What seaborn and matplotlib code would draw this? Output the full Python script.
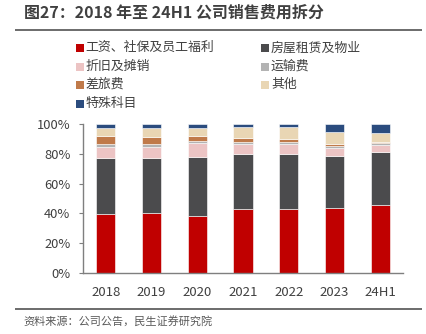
import matplotlib
matplotlib.use("Agg")
import matplotlib.pyplot as plt
import seaborn as sns
import numpy as np
import pandas as pd
from matplotlib.patches import Rectangle

sns.set_style("white")
plt.rcParams['font.family'] = ['Noto Sans CJK SC', 'DejaVu Sans']

periods = ["2018", "2019", "2020", "2021", "2022", "2023", "24H1"]
categories = ["工资、社保及员工福利", "房屋租赁及物业", "折旧及摊销", "运输费",
              "差旅费", "其他", "特殊科目"]
salary    = [39.3, 40.0, 38.4, 43.1, 42.9, 43.6, 45.8]
rent      = [37.8, 37.3, 39.6, 36.5, 37.1, 34.8, 35.1]
deprec    = [7.3, 7.4, 9.3, 7.3, 6.4, 5.6, 4.9]
transport = [2.0, 2.0, 1.3, 1.3, 1.4, 1.1, 1.5]
travel    = [5.3, 4.6, 3.6, 2.2, 2.0, 1.3, 0.3]
other     = [5.4, 6.3, 5.4, 7.4, 8.2, 8.0, 6.2]
special   = [2.9, 2.4, 2.4, 2.2, 2.0, 5.6, 6.2]
series = [salary, rent, deprec, transport, travel, other, special]
colors = ["#C00000", "#4B4B4D", "#ECC4C4", "#B3B3B3", "#C07A4A", "#E9D6B4", "#2B4C7E"]

W, H = 426, 334
fig = plt.figure(figsize=(W / 100, H / 100), dpi=100)

ov = fig.add_axes([0, 0, 1, 1])
ov.set_xlim(0, W)
ov.set_ylim(H, 0)
ov.set_axis_off()

ax = fig.add_axes([83 / W, (H - 273) / H, (403 - 83) / W, (273 - 124) / H])

cum = np.zeros(len(periods))
for vals, col in zip(series, colors):
    df = pd.DataFrame({"period": periods, "value": vals})
    sns.barplot(data=df, x="period", y="value", bottom=cum, color=col,
                width=0.42, ax=ax, edgecolor="white", linewidth=0.4,
                saturation=1, errorbar=None)
    cum = cum + np.array(vals)

ax.set_xlim(-0.5, 6.5)
ax.set_ylim(0, 100)
ax.set_yticks(range(0, 101, 20))
ax.set_yticklabels([f"{v}%" for v in range(0, 101, 20)])
ax.set_xlabel("")
ax.set_ylabel("")
ax.patch.set_alpha(0)
for s in ["top", "right"]:
    ax.spines[s].set_visible(False)
for s in ["left", "bottom"]:
    ax.spines[s].set_color("#7F7F7F")
    ax.spines[s].set_linewidth(1.0)
ax.tick_params(axis="y", length=3, width=0.8, color="#7F7F7F", pad=6,
               labelsize=9.3, labelcolor="#404040", left=True, direction="out")
ax.tick_params(axis="x", length=0, pad=9, labelsize=9.5, labelcolor="#404040")

# Title and rule
ov.text(24, 13, "图27：2018 年至 24H1 公司销售费用拆分",
        fontsize=11.5, fontweight="bold", color="#404040", va="center", ha="left")
ov.add_patch(Rectangle((15, 29), 407, 2, facecolor="#6F6F6F", edgecolor="none"))

# Legend (two columns)
rows = [47.7, 66.5, 84.5, 103.5]
layout = [(0, 0), (1, 0), (0, 1), (1, 1), (0, 2), (1, 2), (0, 3)]
for (col, row), name, c in zip(layout, categories, colors):
    mx = 75.5 if col == 0 else 261
    y = rows[row]
    ov.add_patch(Rectangle((mx, y - 4), 8, 8, facecolor=c, edgecolor="none"))
    ov.text(mx + 10, y, name, fontsize=9.3, color="#404040",
            va="center", ha="left")

# Footer
ov.add_patch(Rectangle((15, 308), 407, 2, facecolor="#6F6F6F", edgecolor="none"))
ov.text(23, 321, "资料来源：公司公告，民生证券研究院",
        fontsize=8, color="#595959", va="center", ha="left")

fig.savefig("out.png", dpi=100)
